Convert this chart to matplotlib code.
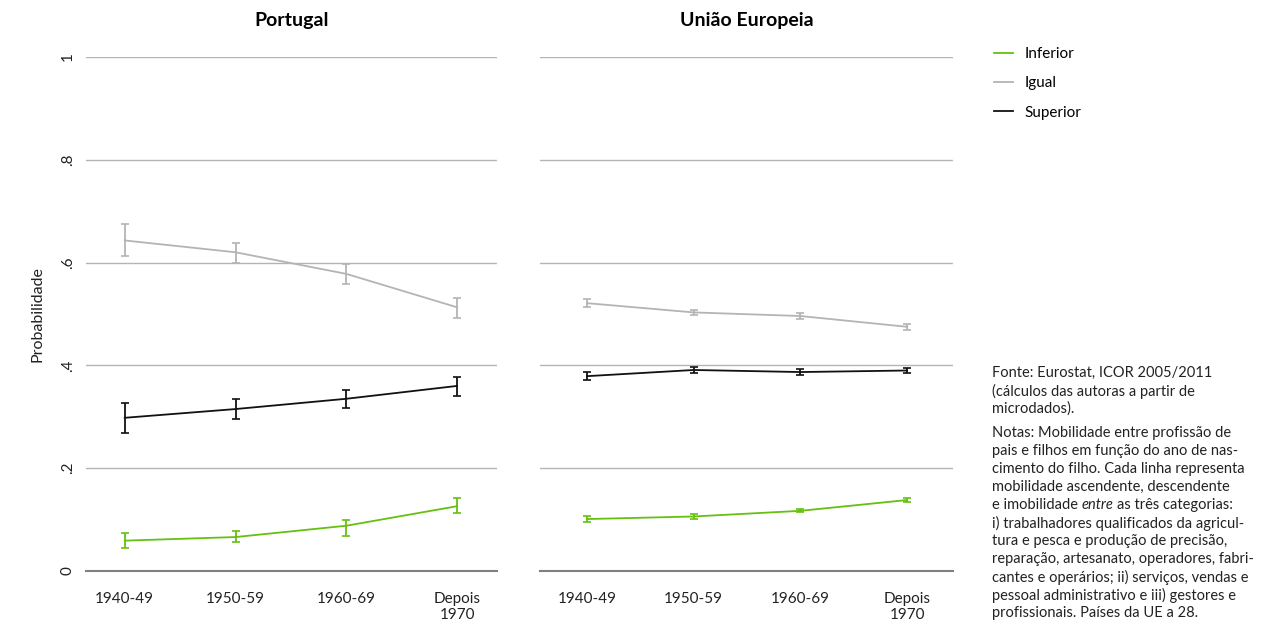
import matplotlib.pyplot as plt
import numpy as np

plt.rcParams['font.family'] = ['Lato', 'DejaVu Sans']

cohorts = ['1940-49', '1950-59', '1960-69', 'Depois\n1970']
panels = ['Portugal', 'União Europeia']
series = ['Inferior', 'Igual', 'Superior']
colors = {'Inferior': '#66c010', 'Igual': '#b4b4b4', 'Superior': '#111111'}

# Portugal: estimate, lower bound, upper bound
pt_inferior = [0.059, 0.066, 0.088, 0.126]
pt_inferior_lo = [0.044, 0.056, 0.069, 0.113]
pt_inferior_hi = [0.073, 0.077, 0.099, 0.141]
pt_igual = [0.643, 0.620, 0.578, 0.513]
pt_igual_lo = [0.612, 0.600, 0.558, 0.493]
pt_igual_hi = [0.675, 0.639, 0.597, 0.532]
pt_superior = [0.298, 0.315, 0.335, 0.360]
pt_superior_lo = [0.268, 0.296, 0.317, 0.341]
pt_superior_hi = [0.327, 0.334, 0.353, 0.378]

# Uniao Europeia
eu_inferior = [0.101, 0.106, 0.117, 0.138]
eu_inferior_lo = [0.095, 0.102, 0.114, 0.134]
eu_inferior_hi = [0.107, 0.110, 0.120, 0.142]
eu_igual = [0.521, 0.503, 0.496, 0.475]
eu_igual_lo = [0.513, 0.498, 0.491, 0.469]
eu_igual_hi = [0.529, 0.508, 0.501, 0.481]
eu_superior = [0.379, 0.391, 0.387, 0.390]
eu_superior_lo = [0.371, 0.386, 0.382, 0.385]
eu_superior_hi = [0.387, 0.396, 0.392, 0.395]

data = {
    'Portugal': {
        'Inferior': (pt_inferior, pt_inferior_lo, pt_inferior_hi),
        'Igual': (pt_igual, pt_igual_lo, pt_igual_hi),
        'Superior': (pt_superior, pt_superior_lo, pt_superior_hi),
    },
    'União Europeia': {
        'Inferior': (eu_inferior, eu_inferior_lo, eu_inferior_hi),
        'Igual': (eu_igual, eu_igual_lo, eu_igual_hi),
        'Superior': (eu_superior, eu_superior_lo, eu_superior_hi),
    },
}

fonte_lines = ['Fonte: Eurostat, ICOR 2005/2011',
               '(cálculos das autoras a partir de',
               'microdados).']
# each line is a list of (text, style) pieces
notas_lines = [[('Notas: Mobilidade entre profissão de', 'normal')],
               [('pais e filhos em função do ano de nas-', 'normal')],
               [('cimento do filho. Cada linha representa', 'normal')],
               [('mobilidade ascendente, descendente', 'normal')],
               [('e imobilidade', 'normal'), ('entre', 'italic'),
                ('as três categorias:', 'normal')],
               [('i) trabalhadores qualificados da agricul-', 'normal')],
               [('tura e pesca e produção de precisão,', 'normal')],
               [('reparação, artesanato, operadores, fabri-', 'normal')],
               [('cantes e operários; ii) serviços, vendas e', 'normal')],
               [('pessoal administrativo e iii) gestores e', 'normal')],
               [('profissionais. Países da UE a 28.', 'normal')]]

fig = plt.figure(figsize=(12.7, 6.3), dpi=100)
fig.set_facecolor('white')

ax_pos = [[0.0677, 0.0937, 0.3236, 0.8159], [0.4252, 0.0937, 0.3252, 0.8159]]
xlims = [(-0.35, 3.36), (-0.44, 3.43)]

x = np.arange(len(cohorts))
handles = {}
for i, panel in enumerate(panels):
    ax = fig.add_axes(ax_pos[i])
    for s in series:
        est, lo, hi = data[panel][s]
        est = np.array(est)
        yerr = [est - np.array(lo), np.array(hi) - est]
        h = ax.errorbar(x, est, yerr=yerr, color=colors[s], lw=1.3,
                        elinewidth=1.3, capsize=3, capthick=1.2, zorder=3)
        handles[s] = h.lines[0]
    ax.set_ylim(0, 1)
    ax.set_xlim(*xlims[i])
    ax.set_xticks(x)
    ax.set_xticklabels(cohorts, fontsize=11, color='#222222')
    ax.set_yticks([0, 0.2, 0.4, 0.6, 0.8, 1])
    ax.grid(axis='y', color='#b4b4b4', lw=1)
    ax.set_axisbelow(True)
    ax.spines[['right', 'left', 'top']].set_visible(False)
    ax.spines['bottom'].set_color('#808080')
    ax.spines['bottom'].set_linewidth(1.5)
    ax.tick_params(axis='x', length=0, pad=15)
    ax.tick_params(axis='y', length=0, pad=8)
    ax.set_title(panel, fontsize=14, fontweight='bold', pad=22)
    if i == 0:
        ax.set_yticklabels(['0', '.2', '.4', '.6', '.8', '1'], rotation=90,
                           va='center', fontsize=11, color='#222222')
        ax.set_ylabel('Probabilidade', fontsize=11.5, labelpad=12, color='#222222')
    else:
        ax.set_yticklabels([])

fig.legend([handles[s] for s in series], series, loc='upper left',
           bbox_to_anchor=(0.772, 0.947), frameon=False, fontsize=11,
           handlelength=1.2, handletextpad=0.8, labelspacing=1.0)

# source and notes, one text per line (pixel rows from the top)
tx = 992 / 1270
for k, line in enumerate(fonte_lines):
    fig.text(tx, 1 - (373 + 18 * k) / 630, line, fontsize=10.5,
             va='center', ha='left', color='#222222')
for k, pieces in enumerate(notas_lines):
    first, style = pieces[0]
    prev = fig.text(tx, 1 - (433 + 18 * k) / 630, first, fontsize=10.5,
                    style=style, va='center', ha='left', color='#222222')
    for txt, style in pieces[1:]:
        prev = ax.annotate(txt, xy=(1, 0), xycoords=prev, xytext=(2.6, 0),
                           textcoords='offset points', fontsize=10.5,
                           style=style, va='bottom', ha='left',
                           color='#222222', annotation_clip=False)

fig.savefig('out.png', dpi=100, facecolor='white')
